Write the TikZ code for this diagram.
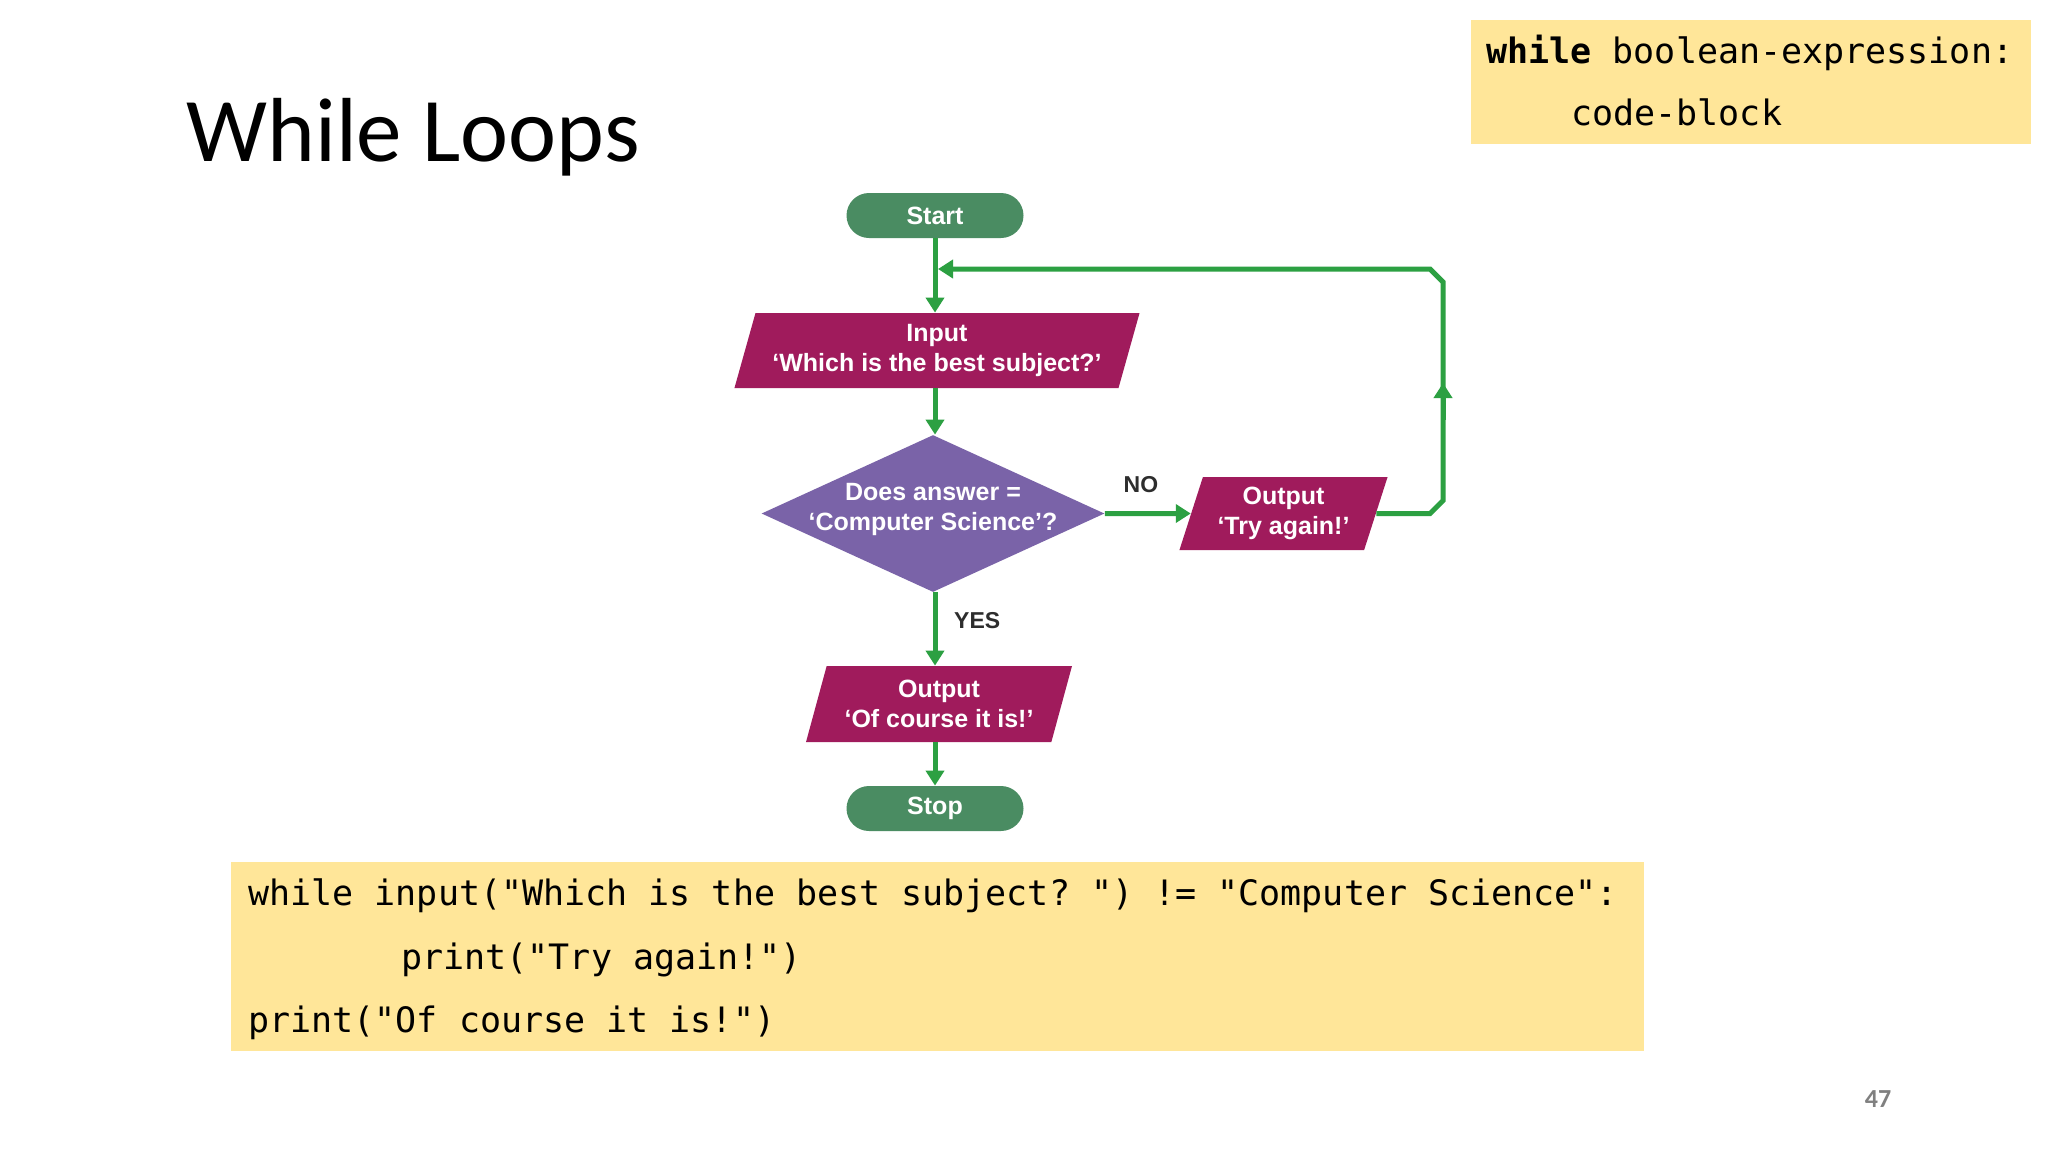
\documentclass[tikz,border=0pt]{standalone}
\usepackage{fontspec}
\setmainfont{Liberation Sans}
\newfontfamily\titlefont{Carlito}
\newfontfamily\codefont{DejaVu Sans Mono}
\newfontfamily\flowfont{Liberation Sans}
\usetikzlibrary{shapes.geometric,arrows.meta}
\definecolor{termgreen}{RGB}{74,140,98}
\definecolor{iomag}{RGB}{160,27,92}
\definecolor{decpurple}{RGB}{122,99,168}
\definecolor{linegreen}{RGB}{44,160,66}
\definecolor{codebg}{RGB}{255,230,153}
\definecolor{labelgray}{RGB}{45,45,45}
\definecolor{pagegray}{RGB}{128,128,128}
\frenchspacing
\begin{document}
\begin{tikzpicture}[x=0.5pt,y=-0.5pt,
  flowtxt/.style={font=\flowfont\bfseries\fontsize{12.5}{15}\selectfont, text=white, align=center},
  term/.style={rectangle, rounded corners=11.25pt, fill=termgreen, minimum width=88.5pt, minimum height=22.5pt, inner sep=0pt, flowtxt},
  io/.style={trapezium, trapezium left angle=70, trapezium right angle=110, trapezium stretches=true, fill=iomag, inner sep=0pt, flowtxt},
  decision/.style={diamond, fill=decpurple, minimum width=171.5pt, minimum height=78.5pt, inner sep=0pt},
  conn/.style={draw=linegreen, line width=2.5pt, -{Triangle[length=7.5pt,width=9pt]}},
  branch/.style={font=\flowfont\bfseries\fontsize{11.5}{13}\selectfont, text=labelgray},
  codebox/.style={fill=codebg, draw=none},
  codeline/.style={anchor=base west, inner sep=0pt, font=\codefont\fontsize{17.5}{20}\selectfont}
]
\useasboundingbox (0,0) rectangle (2048,1152);
\fill[white] (0,0) rectangle (2048,1152);

% title
\node[anchor=base west, inner sep=0pt, font=\titlefont\fontsize{45.5}{50}\selectfont] (title) at (186,161) {While Loops};

% top-right code box
\path[codebox] (1471,20) rectangle (2031,144);
\node[codeline] (syn1) at (1486,63) {\bfseries while\mdseries{} boolean-expression:};
\node[codeline] (syn2) at (1571,125) {code-block};

% bottom code box
\path[codebox] (231,862) rectangle (1644,1051);
\node[codeline] (code1) at (248,905) {while input("Which is the best subject? ") != "Computer Science":};
\node[codeline] (code2) at (401,969) {print("Try again!")};
\node[codeline] (code3) at (248,1032) {print("Of course it is!")};

% page number
\node[inner sep=0pt, font=\titlefont\bfseries\fontsize{13}{15}\selectfont, text=pagegray] (pagenum) at (1878,1099) {47};

% flowchart
\node[term] (start) at (935,215.5) {Start};
\node[io, minimum width=203pt, minimum height=37.5pt] (input) at (937,350.5) {Input\\‘Which is the best subject?’};
\node[decision] (dec) at (933,513.5) {};
\node[flowtxt, inner sep=0pt] (dectext) at (933,509) {Does answer =\\‘Computer Science’?};
\node[io, minimum width=104.5pt, minimum height=36.5pt] (try) at (1283.5,513.5) {Output\\‘Try again!’};
\node[io, minimum width=133pt, minimum height=38pt] (course) at (939,704) {Output\\‘Of course it is!’};
\node[term] (stop) at (935,808.5) {Stop};

\coordinate (join) at (935,269);
\coordinate (c1) at (1430,513.5);
\coordinate (c2) at (1443,500.5);
\coordinate (c3) at (1443,282);
\coordinate (c4) at (1430,269);
\coordinate (mid1) at (1443,420);
\coordinate (mid2) at (1443,383);

\draw[conn] (start.south) -- (start.south |- input.north);
\draw[conn] (start.south |- input.south) -- (start.south |- dec.north);
\draw[conn] (dec.east) -- node[branch, above=6pt, pos=0.42] (no) {NO} (try.west);
\draw[conn] (start.south |- dec.south) -- node[branch, right=5pt, pos=0.38] (yes) {YES} (start.south |- course.north);
\draw[conn] (start.south |- course.south) -- (stop.north);
\draw[conn] (try.east) -- (c1) -- (c2) -- (c3) -- (c4) -- ([xshift=1.5pt]join);
\draw[conn] (mid1) -- (mid2);
\end{tikzpicture}
\end{document}
